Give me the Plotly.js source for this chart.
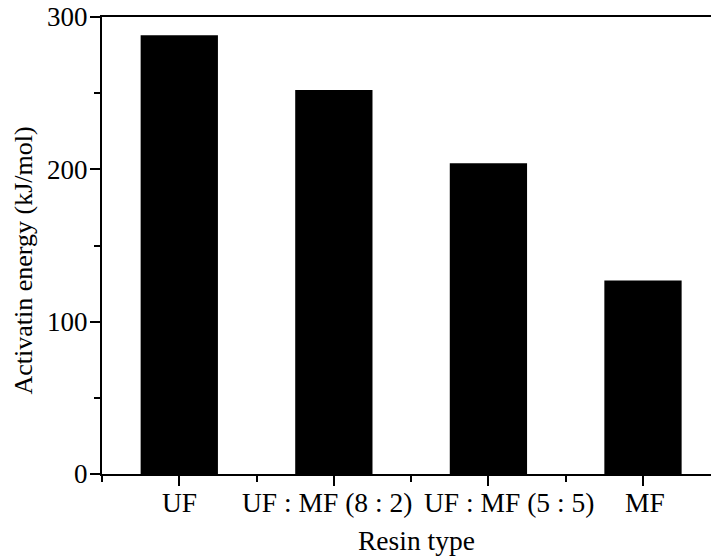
<!DOCTYPE html>
<html>
<head>
<meta charset="utf-8">
<script src="https://cdn.plot.ly/plotly-3.0.1.min.js"></script>
<style>
  html, body { margin: 0; padding: 0; background: #fff; overflow: hidden; }
  #chart { width: 711px; height: 557px; }
</style>
</head>
<body>
<div id="chart"></div>
<script>
// Resin types and their activation energies (kJ/mol)
const resinTypes = ["UF", "UF : MF (8 : 2)", "UF : MF (5 : 5)", "MF"];
const activationEnergy = [288, 252, 204, 127];
const yTickValues = [0, 100, 200, 300];

const positions = resinTypes.map((_, i) => i);

const serif = "'Liberation Serif', 'Times New Roman', Times, serif";
const tickFont = { family: serif, size: 27, color: "#000" };
const labelFont = { family: serif, size: 27.5, color: "#000" };

// Horizontal nudges (px) so the long category labels do not collide
const labelNudge = [0, -7, 21, 2];

const trace = {
  type: "bar",
  x: positions,
  y: activationEnergy,
  width: 0.5,
  marker: { color: "#000", line: { width: 0 } },
  hoverinfo: "skip"
};

// Category labels under the axis
const categoryLabels = resinTypes.map((txt, i) => ({
  text: txt,
  xref: "x", x: positions[i],
  yref: "paper", y: 0,
  xanchor: "center", yanchor: "middle",
  xshift: labelNudge[i], yshift: -28,
  showarrow: false,
  font: labelFont
}));

const axisTitles = [
  {
    text: "Resin type",
    xref: "x", x: (positions[0] + positions[positions.length - 1]) / 2,
    yref: "paper", y: 0,
    xanchor: "center", yanchor: "middle",
    xshift: 5, yshift: -66,
    showarrow: false,
    font: labelFont
  },
  {
    text: "Activatin energy (kJ/mol)",
    xref: "paper", x: 0,
    yref: "paper", y: 0.5,
    xanchor: "center", yanchor: "middle",
    xshift: -79, yshift: -15,
    textangle: -90,
    showarrow: false,
    font: { family: serif, size: 26, color: "#000" }
  }
];

const layout = {
  width: 711,
  height: 557,
  margin: { l: 102, r: 0, t: 17, b: 83 },
  paper_bgcolor: "#fff",
  plot_bgcolor: "#fff",
  font: tickFont,
  showlegend: false,
  annotations: categoryLabels.concat(axisTitles),
  xaxis: {
    range: [-0.5, 3.44],
    tickmode: "array",
    tickvals: positions,
    showticklabels: false,
    ticks: "outside",
    ticklen: 10,
    tickwidth: 2,
    tickcolor: "#000",
    minor: { tickmode: "linear", tick0: -0.5, dtick: 1, ticks: "outside", ticklen: 6, tickwidth: 2, tickcolor: "#000" },
    showline: true,
    linewidth: 2,
    linecolor: "#000",
    mirror: true,
    showgrid: false,
    zeroline: false,
    automargin: false
  },
  yaxis: {
    range: [0, 300],
    tickmode: "array",
    tickvals: yTickValues,
    ticks: "outside",
    ticklen: 10,
    tickwidth: 2,
    tickcolor: "#000",
    ticklabelstandoff: -3,
    minor: { tickmode: "linear", tick0: 50, dtick: 100, ticks: "outside", ticklen: 6, tickwidth: 2, tickcolor: "#000" },
    showline: true,
    linewidth: 2,
    linecolor: "#000",
    mirror: false,
    showgrid: false,
    zeroline: false,
    tickfont: tickFont,
    automargin: false
  }
};

Plotly.newPlot("chart", [trace], layout, { staticPlot: true, displayModeBar: false });
</script>
</body>
</html>
